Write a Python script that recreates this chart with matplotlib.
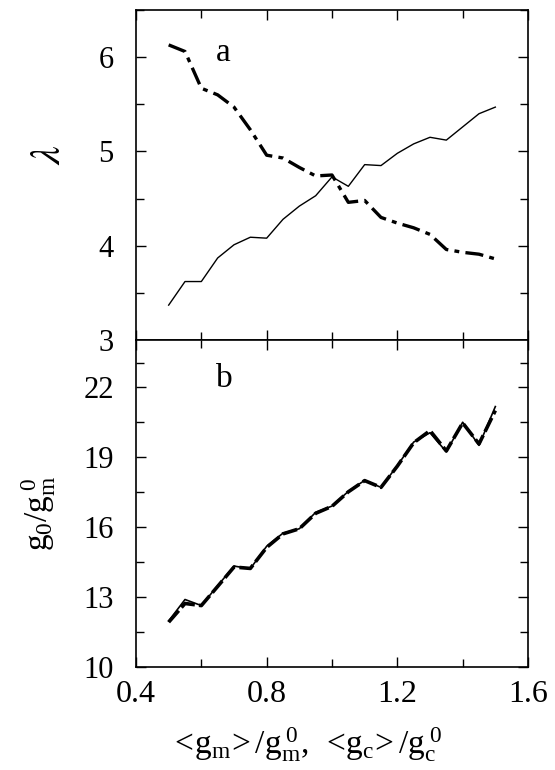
import matplotlib
matplotlib.use("Agg")
import matplotlib.pyplot as plt
from matplotlib.ticker import MultipleLocator, FixedLocator

plt.rcParams['font.family'] = ['Liberation Serif', 'DejaVu Serif']
plt.rcParams['mathtext.fontset'] = 'stix'
plt.rcParams['lines.scale_dashes'] = False

# x values: <g_m>/g_m^0 or <g_c>/g_c^0
x = [0.50, 0.55, 0.60, 0.65, 0.70, 0.75, 0.80, 0.85, 0.90, 0.95, 1.00,
     1.05, 1.10, 1.15, 1.20, 1.25, 1.30, 1.35, 1.40, 1.45, 1.50]

# panel a: lambda
lam_solid = [3.37, 3.62, 3.62, 3.87, 4.01, 4.09, 4.08, 4.28, 4.42, 4.53, 4.73,
             4.63, 4.86, 4.85, 4.98, 5.08, 5.15, 5.12, 5.26, 5.40, 5.47]
lam_dashdot = [6.13, 6.06, 5.67, 5.60, 5.47, 5.23, 4.96, 4.93, 4.83, 4.74, 4.75,
               4.46, 4.48, 4.30, 4.24, 4.19, 4.12, 3.96, 3.93, 3.91, 3.86]

# panel b: g0/gm^0
g_solid = [11.97, 12.89, 12.63, 13.48, 14.32, 14.21, 15.17, 15.73, 15.92, 16.62, 16.89,
           17.52, 17.99, 17.69, 18.62, 19.63, 20.03, 19.21, 20.48, 19.49, 21.15]
g_dashed = [11.92, 12.72, 12.63, 13.45, 14.28, 14.22, 15.12, 15.70, 15.92, 16.58, 16.88,
            17.50, 17.98, 17.69, 18.60, 19.60, 20.12, 19.25, 20.45, 19.55, 20.98]

g_ticks = [10, 13, 16, 19, 22]
g_minor = [11.5, 14.5, 17.5, 20.5, 23]

fig = plt.figure(figsize=(5.55, 7.7), dpi=100)
ax1 = fig.add_axes([136/555, 1 - 340/770, 392/555, 330/770])
ax2 = fig.add_axes([136/555, 1 - 667/770, 392/555, 327/770])

ax1.plot(x, lam_solid, color='black', lw=1.0)
ax1.plot(x, lam_dashdot, color='black', lw=2.4, dashes=(13, 4.5, 3.5, 4.5))

ax2.plot(x, g_dashed, color='black', lw=2.6, dashes=(11, 3))
ax2.plot(x, g_solid, color='black', lw=1.2)

for ax in (ax1, ax2):
    ax.set_xlim(0.4, 1.6)
    ax.xaxis.set_major_locator(MultipleLocator(0.4))
    ax.xaxis.set_minor_locator(MultipleLocator(0.2))
    ax.tick_params(which='both', direction='in', top=True, right=True, width=1.0)
    ax.tick_params(which='major', length=7)
    ax.tick_params(which='minor', length=6)
    ax.tick_params(axis='y', labelsize=22, pad=16)
    ax.tick_params(axis='x', labelsize=23, pad=9)
    for s in ax.spines.values():
        s.set_linewidth(1.2)

ax1.set_ylim(3, 6.5)
ax1.yaxis.set_major_locator(MultipleLocator(1))
ax1.yaxis.set_minor_locator(MultipleLocator(0.5))
ax1.tick_params(axis='x', labelbottom=False)
ax1.text(0.205, 0.87, 'a', transform=ax1.transAxes, fontsize=24, va='center')
ax1.set_ylabel(r'$\lambda$', fontsize=30)
ax1.yaxis.set_label_coords(-0.17, 0.56)

ax2.set_ylim(10, 24)
ax2.yaxis.set_major_locator(FixedLocator(g_ticks))
ax2.yaxis.set_minor_locator(FixedLocator(g_minor))
ax2.text(0.205, 0.88, 'b', transform=ax2.transAxes, fontsize=24, va='center')
ax2.set_ylabel(r'$\mathregular{g_0/g_m^{\;0}}$', fontsize=24)
ax2.yaxis.set_label_coords(-0.20, 0.47)
ax2.set_xlabel(r'$\mathregular{<\!g_m\!>/g_m^{\;0},\ <\!g_c\!>/g_c^{\;0}}$', fontsize=24)
ax2.xaxis.set_label_coords(0.434, -0.18)

fig.savefig('out.png', dpi=100)
